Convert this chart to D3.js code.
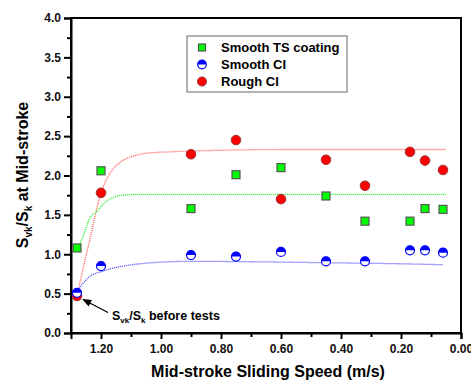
<!DOCTYPE html>
<html>
<head>
<meta charset="utf-8">
<script src="https://cdn.jsdelivr.net/npm/d3@7"></script>
<style>
  body { margin: 0; background: #fff; }
  svg { font-family: "Liberation Sans", Arial, sans-serif; }
  .tick text { font-weight: bold; font-size: 12px; fill: #111; }
</style>
</head>
<body>
<div id="vis"></div>
<script>
// frame size
const FRAME_WIDTH = 471;
const FRAME_HEIGHT = 382;

// data
const speeds = [1.28, 1.20, 0.90, 0.75, 0.60, 0.45, 0.32, 0.17, 0.12, 0.06];
const tsCoating = [1.08, 2.06, 1.58, 2.01, 2.10, 1.74, 1.42, 1.42, 1.58, 1.57];
const smoothCI = [0.51, 0.85, 0.99, 0.97, 1.03, 0.91, 0.91, 1.05, 1.05, 1.02];
const roughCI = [0.47, 1.78, 2.27, 2.45, 1.70, 2.20, 1.87, 2.30, 2.19, 2.07];

// fitted curves
const redFitX = [1.28, 1.24, 1.20, 1.17, 1.14, 1.08, 1.03, 0.97, 0.91, 0.80, 0.60, 0.05];
const redFitY = [0.48, 1.14, 1.78, 2.03, 2.155, 2.26, 2.29, 2.30, 2.31, 2.32, 2.33, 2.33];
const greenFitX = [1.28, 1.26, 1.24, 1.21, 1.19, 1.16, 1.13, 1.08, 1.00, 0.05];
const greenFitY = [1.08, 1.22, 1.435, 1.56, 1.647, 1.72, 1.75, 1.76, 1.76, 1.76];
const blueFitX = [1.28, 1.26, 1.24, 1.19, 1.14, 1.08, 1.03, 0.97, 0.91, 0.70, 0.50, 0.30, 0.15, 0.06];
const blueFitY = [0.52, 0.63, 0.71, 0.79, 0.84, 0.875, 0.893, 0.905, 0.91, 0.905, 0.895, 0.885, 0.875, 0.867];

const xMajor = [1.20, 1.00, 0.80, 0.60, 0.40, 0.20, 0.00];
const xMinor = [1.10, 0.90, 0.70, 0.50, 0.30, 0.10];
const yMajor = [0.0, 0.5, 1.0, 1.5, 2.0, 2.5, 3.0, 3.5, 4.0];
const yMinor = [0.25, 0.75, 1.25, 1.75, 2.25, 2.75, 3.25, 3.75];

const legendNames = ["Smooth TS coating", "Smooth CI", "Rough CI"];

const PLOT = {left: 71, right: 461, top: 18, bottom: 333};

const svg = d3.select("#vis")
  .append("svg")
  .attr("width", FRAME_WIDTH)
  .attr("height", FRAME_HEIGHT);

const X_SCALE = d3.scaleLinear().domain([1.3, 0]).range([PLOT.left, PLOT.right]);
const Y_SCALE = d3.scaleLinear().domain([0, 4]).range([PLOT.bottom, PLOT.top]);

// frame box
svg.append("rect")
  .attr("x", PLOT.left)
  .attr("y", PLOT.top)
  .attr("width", PLOT.right - PLOT.left)
  .attr("height", PLOT.bottom - PLOT.top)
  .attr("fill", "none")
  .attr("stroke", "#000")
  .attr("stroke-width", 2);

// x axis
const xAxis = svg.append("g")
  .attr("transform", "translate(0," + PLOT.bottom + ")")
  .call(d3.axisBottom(X_SCALE).tickValues(xMajor).tickFormat(d3.format(".2f")).tickSize(6).tickPadding(5));
xAxis.selectAll(".tick line").attr("stroke-width", 2);
xAxis.select(".domain").attr("stroke-width", 2);
svg.append("g")
  .attr("transform", "translate(0," + PLOT.bottom + ")")
  .call(d3.axisBottom(X_SCALE).tickValues(xMinor).tickFormat("").tickSize(4))
  .call(g => g.select(".domain").remove())
  .selectAll(".tick line").attr("stroke-width", 2);

// y axis
const yAxis = svg.append("g")
  .attr("transform", "translate(" + PLOT.left + ",0)")
  .call(d3.axisLeft(Y_SCALE).tickValues(yMajor).tickFormat(d3.format(".1f")).tickSize(7).tickPadding(3));
yAxis.selectAll(".tick line").attr("stroke-width", 2);
yAxis.select(".domain").attr("stroke-width", 2);
svg.append("g")
  .attr("transform", "translate(" + PLOT.left + ",0)")
  .call(d3.axisLeft(Y_SCALE).tickValues(yMinor).tickFormat("").tickSize(4))
  .call(g => g.select(".domain").remove())
  .selectAll(".tick line").attr("stroke-width", 2);

// axis titles
svg.append("text")
  .attr("x", (PLOT.left + PLOT.right) / 2 + 2)
  .attr("y", 377)
  .attr("text-anchor", "middle")
  .attr("font-weight", "bold")
  .attr("font-size", "16px")
  .text("Mid-stroke Sliding Speed (m/s)");

const yTitle = svg.append("text")
  .attr("transform", "translate(28,175) rotate(-90)")
  .attr("text-anchor", "middle")
  .attr("font-weight", "bold")
  .attr("font-size", "16px");
yTitle.append("tspan").text("S");
yTitle.append("tspan").attr("font-size", "10px").attr("dy", 4).text("vk");
yTitle.append("tspan").attr("dy", -4).text("/S");
yTitle.append("tspan").attr("font-size", "10px").attr("dy", 4).text("k");
yTitle.append("tspan").attr("dy", -4).text(" at Mid-stroke");

// fit lines
function fitLine(xs, ys, color) {
  const pts = xs.map((x, i) => [x, ys[i]]);
  svg.append("path")
    .datum(pts)
    .attr("fill", "none")
    .attr("stroke", color)
    .attr("stroke-width", 1.3)
    .attr("stroke-dasharray", "1,1")
    .attr("d", d3.line()
      .x(d => X_SCALE(d[0]))
      .y(d => Y_SCALE(d[1]))
      .curve(d3.curveMonotoneX));
}
fitLine(redFitX, redFitY, "#ff5555");
fitLine(greenFitX, greenFitY, "#22ee22");
fitLine(blueFitX, blueFitY, "#4444ff");

// markers
const topHalf = d3.arc().innerRadius(0).startAngle(-Math.PI / 2).endAngle(Math.PI / 2);

function squareMark(g, x, y, s) {
  g.append("rect")
    .attr("x", x - s / 2).attr("y", y - s / 2)
    .attr("width", s).attr("height", s)
    .attr("fill", "#00ff00")
    .attr("stroke", "#555")
    .attr("stroke-width", 1.2);
}
function redMark(g, x, y, r) {
  g.append("circle")
    .attr("cx", x).attr("cy", y).attr("r", r)
    .attr("fill", "#ff0000")
    .attr("stroke", "#993333")
    .attr("stroke-width", 1);
}
function blueMark(g, x, y, r) {
  g.append("circle")
    .attr("cx", x).attr("cy", y).attr("r", r)
    .attr("fill", "#fff")
    .attr("stroke", "#0000ff")
    .attr("stroke-width", 1.2);
  g.append("path")
    .attr("transform", "translate(" + x + "," + y + ")")
    .attr("d", topHalf.outerRadius(r)())
    .attr("fill", "#0000ff");
}

const marks = svg.append("g");
speeds.forEach((s, i) => squareMark(marks, X_SCALE(s), Y_SCALE(tsCoating[i]), 8));
speeds.forEach((s, i) => redMark(marks, X_SCALE(s), Y_SCALE(roughCI[i]), 4.8));
speeds.forEach((s, i) => blueMark(marks, X_SCALE(s), Y_SCALE(smoothCI[i]), 4.5));

// legend
const legend = svg.append("g");
legend.append("rect")
  .attr("x", 187).attr("y", 36)
  .attr("width", 160).attr("height", 56)
  .attr("fill", "#fff")
  .attr("stroke", "#666")
  .attr("stroke-width", 1);
const rowY = [47.5, 64.5, 81.5];
squareMark(legend, 202, rowY[0], 7);
blueMark(legend, 202, rowY[1], 4.3);
redMark(legend, 202, rowY[2], 4.5);
legend.selectAll("text.lg")
  .data(legendNames)
  .enter()
  .append("text")
  .attr("class", "lg")
  .attr("x", 221)
  .attr("y", (d, i) => rowY[i] + 4.5)
  .attr("font-weight", "bold")
  .attr("font-size", "13px")
  .text(d => d);

// annotation
svg.append("defs").append("marker")
  .attr("id", "arrow")
  .attr("viewBox", "0 0 10 10")
  .attr("refX", 9).attr("refY", 5)
  .attr("markerWidth", 7).attr("markerHeight", 7)
  .attr("orient", "auto")
  .append("path")
  .attr("d", "M0,1 L10,5 L0,9 Z")
  .attr("fill", "#000");

svg.append("line")
  .attr("x1", 108).attr("y1", 312.5)
  .attr("x2", 83).attr("y2", 299.5)
  .attr("stroke", "#000")
  .attr("stroke-width", 1.3)
  .attr("marker-end", "url(#arrow)");

const note = svg.append("text")
  .attr("x", 112)
  .attr("y", 320)
  .attr("font-weight", "bold")
  .attr("font-size", "12.5px");
note.append("tspan").text("S");
note.append("tspan").attr("font-size", "8px").attr("dy", 3).text("vk");
note.append("tspan").attr("dy", -3).text("/S");
note.append("tspan").attr("font-size", "8px").attr("dy", 3).text("k");
note.append("tspan").attr("dy", -3).text(" before tests");
</script>
</body>
</html>
